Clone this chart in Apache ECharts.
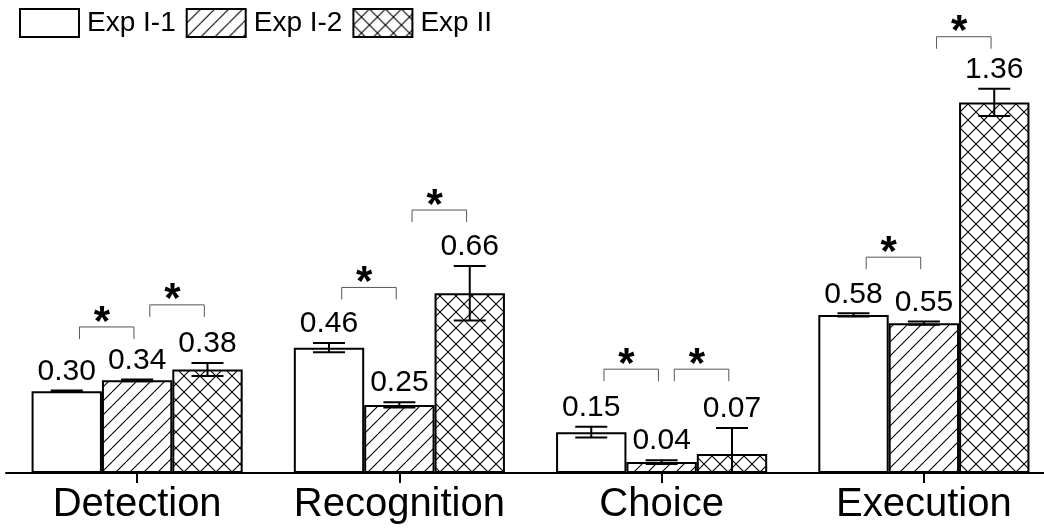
<!DOCTYPE html>
<html>
<head>
<meta charset="utf-8">
<script src="https://cdn.jsdelivr.net/npm/echarts@6/dist/echarts.min.js"></script>
<style>
  html, body { margin: 0; padding: 0; background: #fff; }
  #chart { width: 1044px; height: 529px; }
</style>
</head>
<body>
<div id="chart"></div>
<script>
// Processing stages and mean values per experiment
const categories = ['Detection', 'Recognition', 'Choice', 'Execution'];
const seriesNames = ['Exp I-1', 'Exp I-2', 'Exp II'];
const expI1 = [0.30, 0.46, 0.15, 0.58];
const expI2 = [0.34, 0.25, 0.04, 0.55];
const expII = [0.38, 0.66, 0.07, 1.36];
// Error bar half-lengths
const errI1 = [0.003, 0.017, 0.020, 0.006];
const errI2 = [0.003, 0.010, 0.007, 0.006];
const errII = [0.024, 0.100, 0.095, 0.050];
// Significance brackets: [category index, left bar index, bracket height]
const brackets = [
  [0, 0, 0.536], [0, 1, 0.617],
  [1, 0, 0.681], [1, 1, 0.965],
  [2, 0, 0.381], [2, 1, 0.381],
  [3, 0, 0.792], [3, 1, 1.601]
];

const FONT = '"Liberation Sans", Arial, Helvetica, sans-serif';
const GAP = 0.195;

function makePattern(size, cross) {
  const c = document.createElement('canvas');
  c.width = size; c.height = size;
  const ctx = c.getContext('2d');
  ctx.fillStyle = '#fff';
  ctx.fillRect(0, 0, size, size);
  ctx.strokeStyle = '#000';
  ctx.lineWidth = 1.1;
  ctx.beginPath();
  for (let k = -1; k <= 1; k++) {
    ctx.moveTo(k * size, size);
    ctx.lineTo(k * size + size, 0);
    if (cross) {
      ctx.moveTo(k * size, 0);
      ctx.lineTo(k * size + size, size);
    }
  }
  ctx.stroke();
  return { image: c, repeat: 'repeat' };
}

const fills = ['#ffffff', makePattern(14, false), makePattern(16, true)];
const values = [expI1, expI2, expII];
const errors = [errI1, errI2, errII];

const errData = [];
values.forEach((arr, s) => arr.forEach((v, i) => errData.push([i, s, v, errors[s][i]])));

function barGeom(api, cat) {
  const band = api.size([1, 0])[0];
  const bw = band * (1 - GAP) / 3;
  const cx = api.coord([cat, 0])[0];
  return { bw, cx };
}

const barSeries = values.map((arr, s) => ({
  name: seriesNames[s],
  type: 'bar',
  data: arr,
  barGap: '0%',
  barCategoryGap: (GAP * 100) + '%',
  itemStyle: { color: fills[s], borderColor: '#000', borderWidth: 2 },
  emphasis: { disabled: true },
  z: 2
}));

const chart = echarts.init(document.getElementById('chart'), null, { renderer: 'canvas' });
chart.setOption({
  animation: false,
  backgroundColor: '#fff',
  legend: {
    data: seriesNames,
    left: 19, top: 8,
    padding: 0,
    icon: 'rect',
    itemWidth: 59, itemHeight: 28, itemGap: 10,
    itemStyle: { borderColor: '#000', borderWidth: 2 },
    textStyle: { fontFamily: FONT, fontSize: 28, color: '#000', padding: [0, 0, 0, 3] },
    selectedMode: false
  },
  grid: { left: 6, width: 1049, top: 9.75, bottom: 56, containLabel: false, outerBoundsMode: 'none' },
  xAxis: {
    type: 'category',
    data: categories,
    axisLine: { lineStyle: { color: '#000', width: 2 } },
    axisTick: { show: true, alignWithLabel: true, length: 10, lineStyle: { color: '#000', width: 2 } },
    axisLabel: { fontFamily: FONT, fontSize: 40, color: '#000', margin: 12, interval: 0 }
  },
  yAxis: { type: 'value', min: 0, max: 1.7, show: false, splitLine: { show: false } },
  series: barSeries.concat([
    {
      type: 'custom',
      name: 'errors',
      data: errData,
      clip: false,
      z: 5,
      renderItem: function (params, api) {
        const cat = api.value(0), s = api.value(1), v = api.value(2), e = api.value(3);
        const g = barGeom(api, cat);
        const x = g.cx + (s - 1) * g.bw;
        const yTop = api.coord([cat, v + e])[1];
        const low = v - e;
        const yBot = api.coord([cat, Math.max(0, low)])[1];
        const half = 16;
        const style = { stroke: '#000', lineWidth: 2, fill: null };
        const children = [
          { type: 'line', shape: { x1: x, y1: yTop, x2: x, y2: yBot }, style },
          { type: 'line', shape: { x1: x - half, y1: yTop, x2: x + half, y2: yTop }, style }
        ];
        if (low >= 0) {
          children.push({ type: 'line', shape: { x1: x - half, y1: yBot, x2: x + half, y2: yBot }, style });
        }
        children.push({
          type: 'text',
          style: {
            x: x, y: yTop - 4,
            text: v.toFixed(2),
            font: '30px ' + FONT,
            fill: '#000',
            textAlign: 'center',
            textVerticalAlign: 'bottom'
          }
        });
        return { type: 'group', children };
      }
    },
    {
      type: 'custom',
      name: 'significance',
      data: brackets,
      clip: false,
      z: 6,
      renderItem: function (params, api) {
        const cat = api.value(0), s = api.value(1), lvl = api.value(2);
        const g = barGeom(api, cat);
        const b = g.cx + (s - 0.5) * g.bw;
        const y = api.coord([cat, lvl])[1];
        const xl = b - 22.5, xr = b + 32;
        return {
          type: 'group',
          children: [
            {
              type: 'polyline',
              shape: { points: [[xl, y + 12], [xl, y], [xr, y], [xr, y + 12]] },
              style: { stroke: '#555', lineWidth: 1, fill: null }
            },
            {
              type: 'text',
              style: {
                x: b, y: y - 4,
                text: '*',
                font: 'bold 42px ' + FONT,
                fill: '#000',
                textAlign: 'center',
                textVerticalAlign: 'middle'
              }
            }
          ]
        };
      }
    }
  ])
});
</script>
</body>
</html>
